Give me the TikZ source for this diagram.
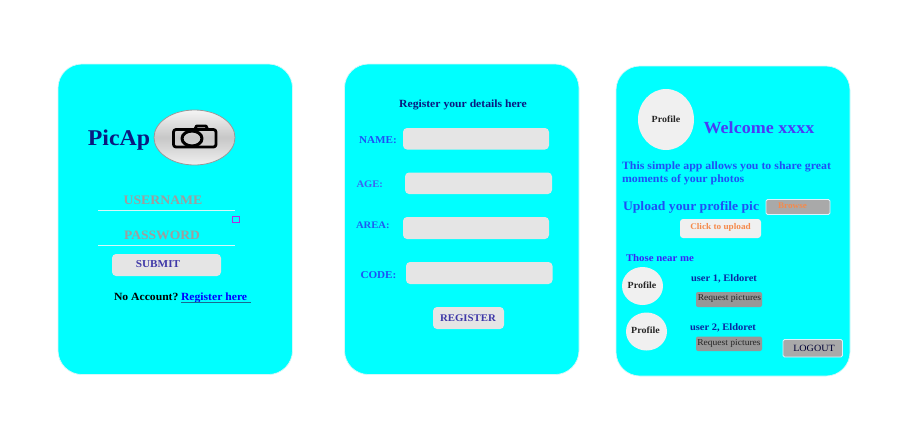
\documentclass[tikz,border=0pt]{standalone}
\usepackage{fontspec}
\setmainfont[FakeStretch=1.06]{Liberation Serif}
\usetikzlibrary{shapes.geometric}
\definecolor{panelc}{HTML}{00FFFF}
\definecolor{fieldc}{HTML}{E5E5E5}
\definecolor{navyc}{HTML}{0B1A80}
\definecolor{labelc}{HTML}{1E50F5}
\definecolor{agec}{HTML}{3F62F0}
\definecolor{areac}{HTML}{1E5CF0}
\definecolor{welcomec}{HTML}{4A3CF5}
\definecolor{nearc}{HTML}{3A24F5}
\definecolor{userc}{HTML}{0A28A0}
\definecolor{violetc}{HTML}{3F38A8}
\definecolor{hintc}{HTML}{9E9E9E}
\definecolor{linec}{HTML}{D5F8F8}
\definecolor{orangec}{HTML}{F58A4B}
\definecolor{graybtn}{HTML}{A9A9A9}
\definecolor{darkbtn}{HTML}{979797}
\definecolor{avatarc}{HTML}{F0F0F0}
\definecolor{underc}{HTML}{1A6A90}
\definecolor{squarec}{HTML}{B030E0}
\newcommand{\fsz}[1]{\fontsize{#1}{#1}\selectfont\bfseries}
\tikzset{
  x=1pt,y=-1pt,
  txt/.style={inner sep=0pt,outer sep=0pt},
  lbl/.style={txt,text=labelc,font=\fsz{10.5}},
  panel/.style={draw=linec,line width=.7pt,fill=panelc,rounded corners=24pt},
  field/.style={fill=fieldc,draw=none,rounded corners=4pt},
  btnline/.style={draw=white!85!cyan,line width=.8pt,rounded corners=1.5pt},
  avatar/.style={ellipse,fill=avatarc,draw=none,inner sep=0pt,outer sep=0pt},
  avtxt/.style={txt,text=black!85,font=\fsz{9.4}},
  reqbox/.style={fill=darkbtn,rounded corners=2pt},
  reqtxt/.style={txt,text=black!85,font=\fontsize{9}{9}\selectfont},
  cam/.style={black,line width=2.8pt,line join=round,line cap=round},
}
\begin{document}
\begin{tikzpicture}
\useasboundingbox (0,0) rectangle (904,424);
\fill[white] (0,0) rectangle (904,424);
% panels
\draw[panel] (58,64) rectangle (292.5,374.5);
\draw[panel] (344.5,64) rectangle (579,374.5);
\draw[panel] (616,66) rectangle (850,376);
% panel 1
\node[txt,text=navyc,font=\fsz{22.5}] (picap) at (119,140) {PicAp};
\node[ellipse,minimum width=81pt,minimum height=55pt,inner sep=0pt,draw=black!40,line width=.8pt,
  top color=white!92!gray,bottom color=white!88!gray,middle color=black!22] (logo) at (194.5,137.5) {};
\draw[cam,rounded corners=2.5pt] (173.5,129.5) rectangle (216,147);
\draw[cam] (195,129) -- (196.5,126) -- (206,126) -- (207.5,129);
\draw[cam,line width=3pt] (192,138.5) ellipse (10 and 7.5);
\node[txt,text=hintc,font=\fsz{13}] (user) at (163,200.5) {USERNAME};
\draw[linec,line width=1.1pt] (98,210.5) -- (235,210.5);
\draw[draw=squarec,line width=.9pt,fill=panelc] (232.5,216.5) rectangle (239.5,222.5);
\node[txt,text=hintc,font=\fsz{12.8}] (pass) at (162,235.5) {PASSWORD};
\draw[linec,line width=1.1pt] (98,245.5) -- (235,245.5);
\fill[field] (112,254) rectangle (221,276);
\node[txt,text=violetc,font=\fsz{10.6}] (submit) at (158,264.5) {SUBMIT};
\node[txt,anchor=base west,font=\fsz{11}] (noacc) at (114,300.5) {No Account?};
\node[txt,anchor=base west,text=blue,font=\fsz{11}] (reg) at (181,300.5) {Register here};
\draw[underc,line width=1pt] (181,302.5) -- (250.5,302.5);
% panel 2
\node[txt,text=navyc,font=\fsz{11}] (title) at (463,104.5) {Register your details here};
\fill[field] (403,128) rectangle (549,149.5);
\fill[field] (405,172.5) rectangle (552,194);
\fill[field] (403,217) rectangle (549,239);
\fill[field] (406,262) rectangle (552.5,284);
\fill[field] (433,307) rectangle (504,329);
\node[lbl,anchor=west] (name) at (359,140.5) {NAME:};
\node[lbl,anchor=west,text=agec,font=\fsz{10}] (age) at (356.5,184.5) {AGE:};
\node[lbl,anchor=west,text=areac,font=\fsz{10}] (area) at (356,225) {AREA:};
\node[lbl,anchor=west] (code) at (360.5,275.5) {CODE:};
\node[txt,text=violetc,font=\fsz{10.2}] (regbtn) at (468,318.5) {REGISTER};
% panel 3
\node[avatar,minimum width=56pt,minimum height=61pt] (p0) at (666,119.5) {};
\node[avtxt] at (666,119) {Profile};
\node[txt,text=welcomec,font=\fsz{17}] (welcome) at (759,128) {Welcome xxxx};
\node[txt,anchor=base west,text=labelc,font=\fsz{11.2}] (d1) at (622,169) {This simple app allows you to share great};
\node[txt,anchor=base west,text=labelc,font=\fsz{11.2}] (d2) at (622,182) {moments of your photos};
\node[txt,anchor=base west,text=labelc,font=\fsz{12.9}] (up) at (623,210.5) {Upload your profile pic};
\draw[btnline,fill=graybtn] (766,199.5) rectangle (830,214.5);
\node[txt,text=orangec,font=\fsz{8.6}] (browse) at (792.5,206) {Browse};
\fill[fill=avatarc,rounded corners=3pt] (680,219) rectangle (761,238);
\node[txt,text=orangec,font=\fsz{8.7}] (click) at (720.5,227.5) {Click to upload};
\node[txt,anchor=base west,text=nearc,font=\fsz{10.2}] (near) at (626,261) {Those near me};
\node[avatar,minimum width=41pt,minimum height=38pt] (p1) at (642.5,286) {};
\node[avtxt] at (642,285.5) {Profile};
\node[txt,anchor=base west,text=userc,font=\fsz{9.9}] (u1) at (691,281) {user 1, Eldoret};
\fill[reqbox] (696,292) rectangle (762,307);
\node[reqtxt] (r1) at (729.5,298) {Request pictures};
\node[avatar,minimum width=41pt,minimum height=38pt] (p2) at (646.5,331.5) {};
\node[avtxt] at (645.5,330.5) {Profile};
\node[txt,anchor=base west,text=userc,font=\fsz{9.9}] (u2) at (690,330) {user 2, Eldoret};
\fill[reqbox] (696,336.5) rectangle (762,351);
\node[reqtxt] (r2) at (729,343.5) {Request pictures};
\draw[btnline,fill=graybtn] (783,339.5) rectangle (842.5,357);
\node[txt,text=black!80!blue,font=\fontsize{9.5}{9.5}\selectfont] (logout) at (814,348.5) {LOGOUT};
\end{tikzpicture}
\end{document}
